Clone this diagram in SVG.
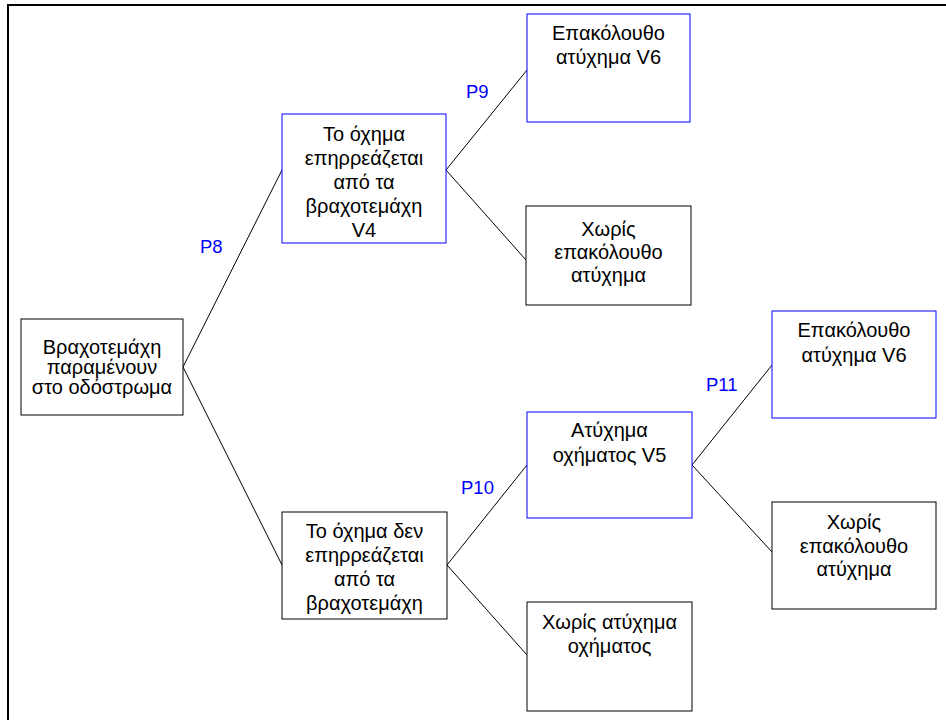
<svg xmlns="http://www.w3.org/2000/svg" width="946" height="720" viewBox="0 0 946 720">
  <style>
    .box { fill: #ffffff; stroke: #000000; stroke-width: 1; }
    .box.hl { stroke: #0000ff; }
    .lbl { font-family: "Liberation Sans", Arial, sans-serif; font-size: 20px; fill: #000000; text-anchor: middle; }
    .prob { font-family: "Liberation Sans", Arial, sans-serif; font-size: 18.5px; fill: #0000ff; }
    .edge { stroke: #000000; stroke-width: 1; fill: none; }
  </style>
  <rect width="946" height="720" fill="#ffffff"/>
  <!-- page frame -->
  <path d="M8 721 V5 H947" fill="none" stroke="#000000" stroke-width="2"/>

  <g id="connectors">
    <line class="edge" x1="183" y1="367" x2="282" y2="170"/>
    <line class="edge" x1="183" y1="367" x2="282" y2="565"/>
    <line class="edge" x1="446" y1="170" x2="527" y2="70"/>
    <line class="edge" x1="446" y1="170" x2="526" y2="260"/>
    <line class="edge" x1="447" y1="565" x2="527" y2="465"/>
    <line class="edge" x1="447" y1="565" x2="527" y2="655"/>
    <line class="edge" x1="692" y1="465" x2="772" y2="365"/>
    <line class="edge" x1="692" y1="465" x2="772" y2="552"/>
  </g>

  <g id="probabilities">
    <text class="prob" x="200" y="253">P8</text>
    <text class="prob" x="466" y="98">P9</text>
    <text class="prob" x="461" y="494">P10</text>
    <text class="prob" x="706" y="391">P11</text>
  </g>

  <g id="root">
    <rect class="box" x="21" y="319" width="162" height="96"/>
    <text class="lbl" x="102" y="354">Βραχοτεμάχη</text>
    <text class="lbl" x="102" y="374">παραμένουν</text>
    <text class="lbl" x="102" y="394">στο οδόστρωμα</text>
  </g>

  <g id="v4">
    <rect class="box hl" x="282" y="114" width="164" height="129"/>
    <text class="lbl" x="364" y="141">Το όχημα</text>
    <text class="lbl" x="364" y="165">επηρρεάζεται</text>
    <text class="lbl" x="364" y="189">από τα</text>
    <text class="lbl" x="364" y="213">βραχοτεμάχη</text>
    <text class="lbl" x="364" y="237">V4</text>
  </g>

  <g id="not-affected">
    <rect class="box" x="282" y="512" width="165" height="107"/>
    <text class="lbl" x="364.5" y="538">Το όχημα δεν</text>
    <text class="lbl" x="364.5" y="562">επηρρεάζεται</text>
    <text class="lbl" x="364.5" y="586">από τα</text>
    <text class="lbl" x="364.5" y="610">βραχοτεμάχη</text>
  </g>

  <g id="v6-upper">
    <rect class="box hl" x="527" y="14" width="163" height="108"/>
    <text class="lbl" x="608.5" y="40">Επακόλουθο</text>
    <text class="lbl" x="608.5" y="64">ατύχημα V6</text>
  </g>

  <g id="no-secondary-upper">
    <rect class="box" x="526" y="206" width="165" height="99"/>
    <text class="lbl" x="608.5" y="236">Χωρίς</text>
    <text class="lbl" x="608.5" y="259">επακόλουθο</text>
    <text class="lbl" x="608.5" y="282">ατύχημα</text>
  </g>

  <g id="v5">
    <rect class="box hl" x="527" y="412" width="165" height="106"/>
    <text class="lbl" x="609.5" y="437">Ατύχημα</text>
    <text class="lbl" x="609.5" y="462">οχήματος V5</text>
  </g>

  <g id="no-vehicle-accident">
    <rect class="box" x="527" y="602" width="165" height="109"/>
    <text class="lbl" x="609.5" y="629">Χωρίς ατύχημα</text>
    <text class="lbl" x="609.5" y="653">οχήματος</text>
  </g>

  <g id="v6-lower">
    <rect class="box hl" x="772" y="311" width="164" height="107"/>
    <text class="lbl" x="854" y="337">Επακόλουθο</text>
    <text class="lbl" x="854" y="362">ατύχημα V6</text>
  </g>

  <g id="no-secondary-lower">
    <rect class="box" x="772" y="502" width="164" height="107"/>
    <text class="lbl" x="854" y="529">Χωρίς</text>
    <text class="lbl" x="854" y="553">επακόλουθο</text>
    <text class="lbl" x="854" y="576">ατύχημα</text>
  </g>
</svg>
